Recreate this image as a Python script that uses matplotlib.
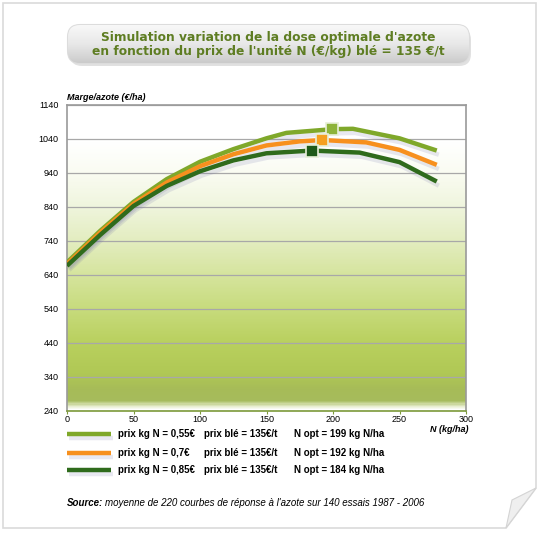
import numpy as np
import matplotlib
matplotlib.use("Agg")
import matplotlib.pyplot as plt
import matplotlib.patheffects as pe
from matplotlib.colors import LinearSegmentedColormap
from matplotlib.patches import FancyBboxPatch, Polygon

plt.rcParams['font.family'] = ['Liberation Sans', 'DejaVu Sans']

# --- data ---
n_low = [0, 25, 50, 75, 100, 125, 150, 165, 200, 215, 250, 278]
marge_low = [677, 770, 855, 922, 973, 1010, 1042, 1058, 1069, 1070, 1042, 1006]
n_mid = [0, 25, 50, 75, 100, 125, 150, 175, 192, 225, 250, 278]
marge_mid = [672, 765, 849, 912, 960, 995, 1021, 1033, 1037, 1030, 1008, 964]
n_high = [0, 25, 50, 75, 100, 125, 150, 184, 220, 250, 278]
marge_high = [667, 758, 843, 902, 945, 977, 998, 1006, 1000, 972, 915]

opt_n = [199, 192, 184]
opt_marge = [1069, 1037, 1006]

prix_n = ["prix kg N = 0,55€", "prix kg N = 0,7€", "prix kg N = 0,85€"]
prix_ble = ["prix blé = 135€/t"] * 3
n_opt = ["N opt = 199 kg N/ha", "N opt = 192 kg N/ha", "N opt = 184 kg N/ha"]

yticks = [240, 340, 440, 540, 640, 740, 840, 940, 1040, 1140]
xticks = [0, 50, 100, 150, 200, 250, 300]

line_colors = ['#7fa82a', '#f7901e', '#2f6b1c']
marker_colors = ['#8db33a', '#f5a020', '#1f5a1a']

W, H = 546, 555
fig = plt.figure(figsize=(W / 100, H / 100), dpi=100)

# background axes in pixel coordinates
bg = fig.add_axes([0, 0, 1, 1])
bg.set_xlim(0, W)
bg.set_ylim(H, 0)
bg.axis('off')

# page with curled corner
page = Polygon([(3, 3), (536, 3), (536, 488), (506, 528), (3, 528)],
               closed=True, facecolor='white', edgecolor='#dadada', lw=1.2)
bg.add_patch(page)
curl = Polygon([(536, 488), (506, 528), (512, 500)], closed=True,
               facecolor='#efefef', edgecolor='#d4d4d4', lw=0.8)
bg.add_patch(curl)

# title box with grey gradient
shadow = FancyBboxPatch((70, 28), 401, 38, boxstyle="round,pad=0,rounding_size=12",
                        facecolor='#c4c4c4', edgecolor='none', alpha=0.5)
bg.add_patch(shadow)
box = FancyBboxPatch((68, 25), 401, 38, boxstyle="round,pad=0,rounding_size=12",
                     facecolor='none', edgecolor='#dcdcdc', lw=1.5)
bg.add_patch(box)
grad = np.linspace(0, 1, 100).reshape(-1, 1)
gcmap = LinearSegmentedColormap.from_list('g', ['#f8f8f8', '#e8e8e8', '#cbcbcb'])
im = bg.imshow(grad, cmap=gcmap, extent=[68, 469, 63, 25], aspect='auto', zorder=1)
im.set_clip_path(box)
bg.text(268, 38, "Simulation variation de la dose optimale d'azote",
        ha='center', va='center', fontsize=8.8, fontweight='bold',
        color='#5e7d22', family='DejaVu Sans', zorder=3)
bg.text(268, 52, "en fonction du prix de l'unité N (€/kg) blé = 135 €/t",
        ha='center', va='center', fontsize=8.8, fontweight='bold',
        color='#5e7d22', family='DejaVu Sans', zorder=3)

# main chart
ax = fig.add_axes([67 / W, 1 - 411 / H, (466 - 67) / W, (411 - 105) / H])
ax.set_xlim(0, 300)
ax.set_ylim(240, 1140)

stops = [(0.0, '#ffffff'), (0.012, '#e8eecf'), (0.03, '#a6bb5c'), (0.07, '#a7bc58'),
         (0.12, '#b0c855'), (0.22, '#b9d05e'), (0.33, '#c7db7c'), (0.44, '#d5e49c'),
         (0.556, '#e3edc0'), (0.667, '#eff5dd'), (0.78, '#fafcf2'), (0.88, '#ffffff'),
         (1.0, '#ffffff')]
bcmap = LinearSegmentedColormap.from_list('bgg', stops)
vgrad = np.linspace(0, 1, 300).reshape(-1, 1)
ax.imshow(vgrad, cmap=bcmap, extent=[0, 300, 240, 1140], origin='lower',
          aspect='auto', zorder=0)

for yt in yticks:
    ax.axhline(yt, color='#a8a8a8', lw=0.9, zorder=1)

series = [(n_low, marge_low), (n_mid, marge_mid), (n_high, marge_high)]
shadow_fx = [pe.SimpleLineShadow(offset=(1.5, -3), shadow_color='#7070a8', alpha=0.16),
             pe.Normal()]
for (xs, ys), c in zip(series, line_colors):
    ax.plot(xs, ys, color=c, lw=3.2, solid_capstyle='butt', zorder=3,
            path_effects=shadow_fx)

for xo, yo, c in zip(opt_n, opt_marge, marker_colors):
    ax.plot(xo, yo, marker='s', ms=9, color=c, mec='#e8f0d8', mew=1.2, zorder=4)

for s in ['left', 'top', 'right']:
    ax.spines[s].set_color('#9a9a9a')
    ax.spines[s].set_linewidth(1.2)
ax.spines['bottom'].set_color('#7d9a3a')
ax.spines['bottom'].set_linewidth(1.2)

ax.set_xticks(xticks)
ax.set_yticks(yticks)
ax.tick_params(axis='y', length=0, pad=6, labelsize=6.5)
ax.tick_params(axis='x', length=2, color='#7d9a3a', pad=1, labelsize=6.5)

bg.text(67, 97, "Marge/azote (€/ha)", ha='left', va='center', fontsize=6.5,
        fontweight='bold', style='italic')
bg.text(468, 429, "N (kg/ha)", ha='right', va='center', fontsize=6.5,
        fontweight='bold', style='italic')

# legend
rows = [434, 453, 470]
for y, c, a, b, t in zip(rows, line_colors, prix_n, prix_ble, n_opt):
    bg.plot([67, 111], [y, y], color=c, lw=3.2, solid_capstyle='butt',
            path_effects=shadow_fx)
    bg.text(118, y, a, ha='left', va='center', fontsize=7, fontweight='bold')
    bg.text(204, y, b, ha='left', va='center', fontsize=7, fontweight='bold')
    bg.text(294, y, t, ha='left', va='center', fontsize=7, fontweight='bold')

bg.text(67, 503, "Source:", ha='left', va='center', fontsize=7,
        fontweight='bold', style='italic')
bg.text(105, 503, "moyenne de 220 courbes de réponse à l'azote sur 140 essais 1987 - 2006",
        ha='left', va='center', fontsize=7, style='italic')

fig.savefig('out.png', dpi=100)
